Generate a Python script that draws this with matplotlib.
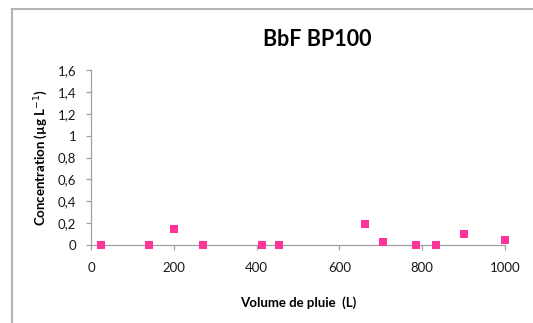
import matplotlib
matplotlib.use("Agg")
import matplotlib.pyplot as plt
from matplotlib.patches import Rectangle

# rain volume (L) vs BbF concentration (µg/L), sampler BP100
volume = [25, 141, 201, 270, 414, 453, 661, 705, 786, 834, 902, 1000]
concentration = [0.0, 0.0, 0.15, 0.0, 0.0, 0.0, 0.19, 0.025, 0.0, 0.0, 0.10, 0.045]

x_ticks = [0, 200, 400, 600, 800, 1000]
y_ticks = [0, 0.2, 0.4, 0.6, 0.8, 1.0, 1.2, 1.4, 1.6]
y_labels = ["0", "0,2", "0,4", "0,6", "0,8", "1", "1,2", "1,4", "1,6"]

plt.rcParams["font.family"] = ["Lato", "DejaVu Sans"]

fig = plt.figure(figsize=(5.33, 3.23), dpi=100)
# chart frame (left and top edges visible)
fig.patches.append(Rectangle((11.5 / 533, -0.05), 1.2, (323 - 8.5) / 323 + 0.05,
                             transform=fig.transFigure, fill=False,
                             edgecolor="#b4b4b4", linewidth=1.5))

ax = fig.add_axes([91 / 533, 1 - 245 / 323, (505 - 91) / 533, (245 - 70) / 323])
ax.scatter(volume, concentration, marker="s", s=34, color="#ff3399",
           linewidths=0, zorder=3, clip_on=False)

ax.set_xlim(0, 1000)
ax.set_ylim(0, 1.6)
ax.set_xticks(x_ticks)
ax.set_yticks(y_ticks)
ax.set_yticklabels(y_labels)
for side in ("top", "right"):
    ax.spines[side].set_visible(False)
for side in ("left", "bottom"):
    ax.spines[side].set_color("#a0a0a0")
    ax.spines[side].set_linewidth(0.9)
ax.tick_params(direction="out", length=3.5, width=0.9, color="#a0a0a0",
               labelsize=9.5, labelcolor="#1a1a1a")
ax.tick_params(axis="x", pad=9)
ax.tick_params(axis="y", pad=7)

ax.set_xlabel("Volume de pluie  (L)", fontsize=9.5, fontweight="bold", va="center")
ax.set_ylabel("Concentration (µg L$^{-1}$)", fontsize=9.5, fontweight="bold", va="center")
ax.xaxis.set_label_coords(0.5, (245 - 303) / 175)
ax.yaxis.set_label_coords((41 - 91) / 414, 0.5)

fig.text(317 / 533, 1 - 40 / 323, "BbF BP100", ha="center", va="center",
         fontsize=15.5, fontweight="bold")

fig.savefig("out.png", dpi=100)
